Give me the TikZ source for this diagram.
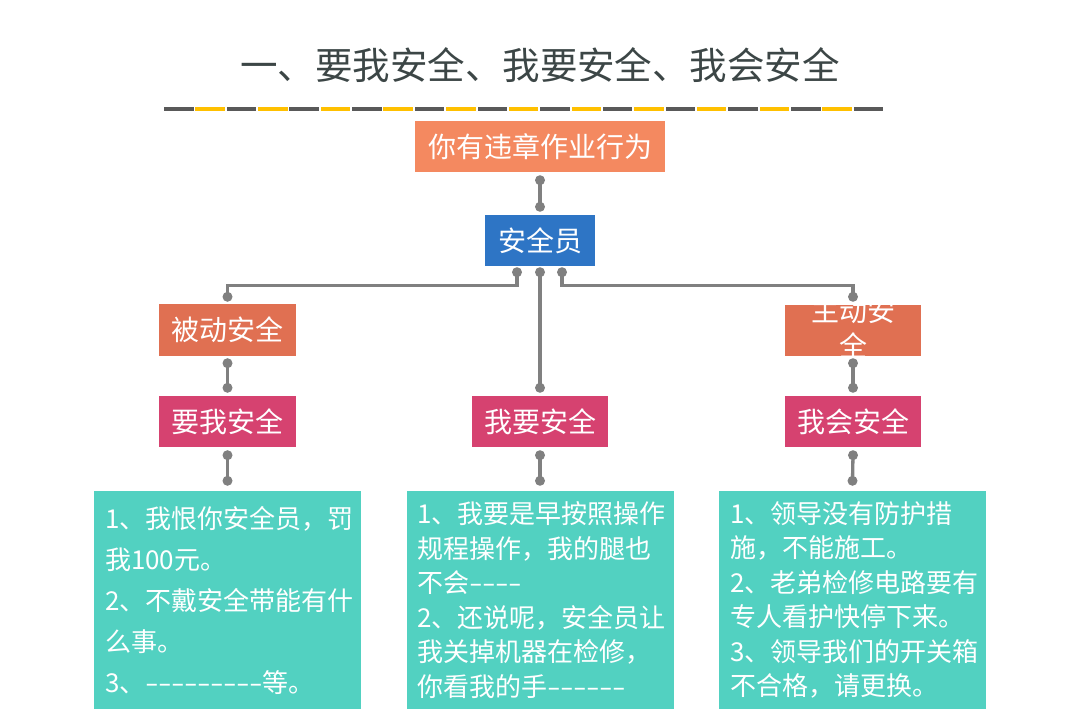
\documentclass[tikz,border=0pt]{standalone}
\usepackage{fontspec}
\setmainfont{Noto Sans CJK SC}
\definecolor{titlec}{RGB}{60,70,70}
\definecolor{dgray}{RGB}{89,89,89}
\definecolor{ygold}{RGB}{255,192,0}
\definecolor{topor}{RGB}{244,137,96}
\definecolor{blue1}{RGB}{46,117,197}
\definecolor{dor}{RGB}{224,112,82}
\definecolor{pink1}{RGB}{214,66,112}
\definecolor{teal1}{RGB}{82,209,193}
\definecolor{cgray}{RGB}{128,128,128}
\newcommand\hy{\hbox to 0.5em{\hss\scalebox{1.5}[1]{-}\hss}}
\begin{document}
\begin{tikzpicture}[x=1pt,y=-1pt,
  box/.style={rectangle, inner sep=0pt, text=white, font=\fontsize{28}{32}\selectfont},
  conn/.style={draw=cgray, line width=3.3pt},
  textbox/.style={rectangle, fill=teal1, text=white, inner xsep=11pt, inner ysep=0pt,
    minimum width=267pt, minimum height=218pt, text width=245pt, align=left}]
\useasboundingbox (0,0) rectangle (1080,720);
\fill[white] (0,0) rectangle (1080,720);
% title
\node[font=\fontsize{37.5}{40}\selectfont, text=titlec] (title) at (540,65) {一、要我安全、我要安全、我会安全};
% dashed rule
\foreach \i in {0,...,22} {
  \pgfmathsetmacro\xa{164+\i*31.35}
  \ifodd\i \def\cc{ygold}\else\def\cc{dgray}\fi
  \fill[\cc] (\xa,107) rectangle (\xa+29.5,111);
}
% boxes
\node[box, fill=topor, minimum width=250pt, minimum height=51pt] (top) at (540,146.5) {你有违章作业行为};
\node[box, fill=blue1, minimum width=110pt, minimum height=51pt] (anq) at (540,240.5) {安全员};
\node[box, fill=dor, minimum width=137pt, minimum height=52pt] (bd) at (227.5,330) {被动安全};
\node[box, fill=dor, minimum width=136pt, minimum height=51pt] (zd) at (853,330.5) {};
\node[box, align=center, font=\fontsize{28}{35}\selectfont] (zdt) at (853,327.5) {主动安\\全};
\node[box, fill=pink1, minimum width=137pt, minimum height=51pt] (yw) at (227.5,421.5) {要我安全};
\node[box, fill=pink1, minimum width=136pt, minimum height=51pt] (wy) at (540,421.5) {我要安全};
\node[box, fill=pink1, minimum width=136pt, minimum height=51pt] (wh) at (853,421.5) {我会安全};
\node[textbox, font=\fontsize{26}{41}\selectfont] (b1) at (227.5,600) {1、我恨你安全员，罚\\我100元。\\2、不戴安全带能有什\\么事。\\3、\hy\hy\hy\hy\hy\hy\hy\hy\hy 等。};
\node[textbox, font=\fontsize{26}{34.6}\selectfont] (b2) at (540,600) {1、我要是早按照操作\\规程操作，我的腿也\\不会\hy\hy\hy\hy\\2、还说呢，安全员让\\我关掉机器在检修，\\你看我的手\hy\hy\hy\hy\hy\hy};
\node[textbox, font=\fontsize{26}{34.4}\selectfont] (b3) at (852.5,600) {1、领导没有防护措\\施，不能施工。\\2、老弟检修电路要有\\专人看护快停下来。\\3、领导我们的开关箱\\不合格，请更换。};
% connector end points
\coordinate (p1) at ([yshift=-8pt]top.south);
\coordinate (p2) at ([yshift=8pt]anq.north);
\coordinate (qL) at ([xshift=-23pt,yshift=-6pt]anq.south);
\coordinate (qM) at ([yshift=-6pt]anq.south);
\coordinate (qR) at ([xshift=22pt,yshift=-6pt]anq.south);
\coordinate (r1) at ([yshift=7pt]bd.north);
\coordinate (r2) at ([yshift=8pt]zd.north);
\coordinate (s) at ([yshift=8pt]wy.north);
\coordinate (t1) at ([yshift=-7pt]bd.south);
\coordinate (u1) at ([yshift=8pt]yw.north);
\coordinate (t2) at ([yshift=-7pt]zd.south);
\coordinate (u2) at ([yshift=8pt]wh.north);
\coordinate (v1) at ([yshift=-8pt]yw.south);
\coordinate (w1) at ([yshift=10pt]b1.north);
\coordinate (v2) at ([yshift=-8pt]wy.south);
\coordinate (w2) at ([yshift=10pt]b2.north);
\coordinate (v3) at ([yshift=-8pt]wh.south);
\coordinate (w3) at ([yshift=10pt]b3.north);
% connectors
\draw[conn] (p1) -- (p2);
\draw[conn] (qL) -- ++(0,13) -| (r1);
\draw[conn] (qM) -- (s);
\draw[conn] (qR) -- ++(0,13) -| (r2);
\draw[conn] (t1) -- (u1);
\draw[conn] (t2) -- (u2);
\draw[conn] (v1) -- (w1);
\draw[conn] (v2) -- (w2);
\draw[conn] (v3) -- (w3);
\foreach \p in {p1,p2,qL,qM,qR,r1,r2,s,t1,u1,t2,u2,v1,w1,v2,w2,v3,w3}
  \fill[cgray] (\p) circle (5pt);
\end{tikzpicture}
\end{document}
